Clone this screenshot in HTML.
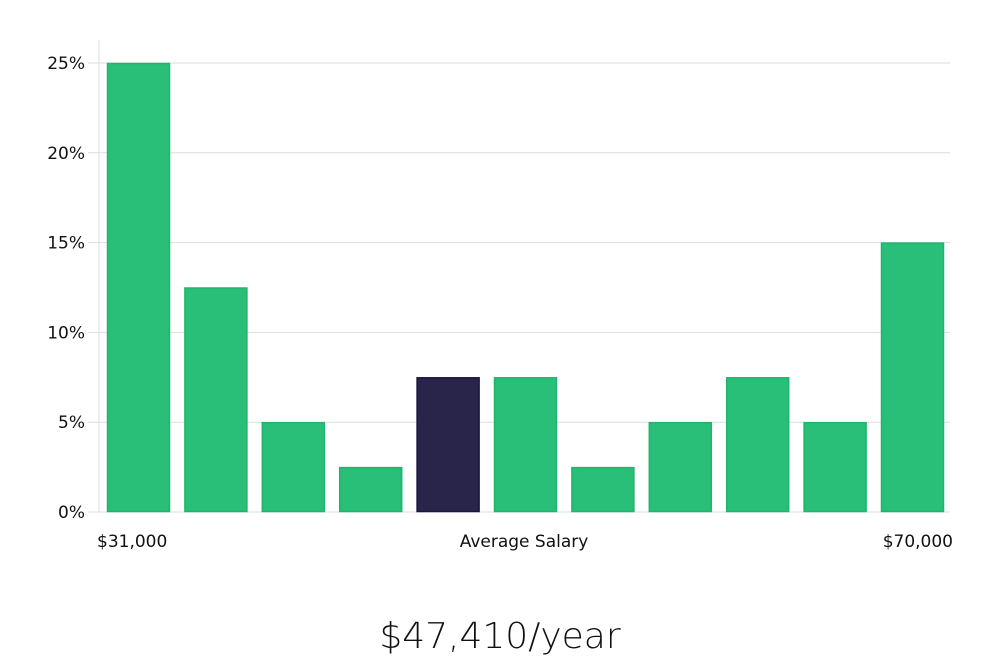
<!DOCTYPE html>
<html><head><meta charset="utf-8"><style>
body{margin:0;background:#fff;width:1000px;height:660px;overflow:hidden;font-family:"DejaVu Sans","Liberation Sans",sans-serif}
</style></head><body>
<svg width="1000" height="660" id="chart">
<g id="grid"></g><g id="bars"></g><g id="labels"></g>
<text x="500" y="648" text-anchor="middle" font-size="36" fill="#111" font-family="'DejaVu Sans','Liberation Sans',sans-serif" font-weight="300">$47,410/year</text>
</svg>
<script>
const values=[25,12.5,5,2.5,7.5,7.5,2.5,5,7.5,5,15];
const highlight=[false,false,false,false,true,false,false,false,false,false,false];
const yTicks=[0,5,10,15,20,25];
const xLabels=["$31,000","Average Salary","$70,000"];
const NS="http://www.w3.org/2000/svg";
const x0=99,x1=950,y0=512,yTop=63,yMax=25;
const y=v=>y0-(y0-yTop)*v/yMax;
const step=77.4,bw=63,bx=i=>107+i*step;
function mk(t,a,p){const e=document.createElementNS(NS,t);for(const k in a)e.setAttribute(k,a[k]);p.appendChild(e);return e;}
const g=document.getElementById('grid'),b=document.getElementById('bars'),l=document.getElementById('labels');
const ax=mk('line',{x1:x0,x2:x0,y1:40,y2:y0,stroke:'#ddd'},g);


yTicks.forEach(v=>{
 const ln=mk('line',{x1:88,x2:x1,y1:y(v),y2:y(v),stroke:'#ddd'},g);
 
 
 const t=mk('text',{x:85,y:y(v)+6,'text-anchor':'end','font-size':17,fill:'#111'},l);
 t.textContent=v+'%';
 
 
});
values.forEach((v,i)=>{
 const r=mk('rect',{x:bx(i)+0.5,y:y(v)+0.5,width:bw-1,height:y0-y(v)-1,fill:highlight[i]?'#29254a':'#2abf78',stroke:highlight[i]?'#1a1640':'#1fb56d','stroke-width':1.5},b);
 
 
});
const xl=[[97,'start'],[524,'middle'],[953,'end']];
xLabels.forEach((s,i)=>{
 const t=mk('text',{x:xl[i][0],y:547,'text-anchor':xl[i][1],'font-size':17,fill:'#111'},l);
 t.textContent=s;
 
 
});
</script>
</body></html>
